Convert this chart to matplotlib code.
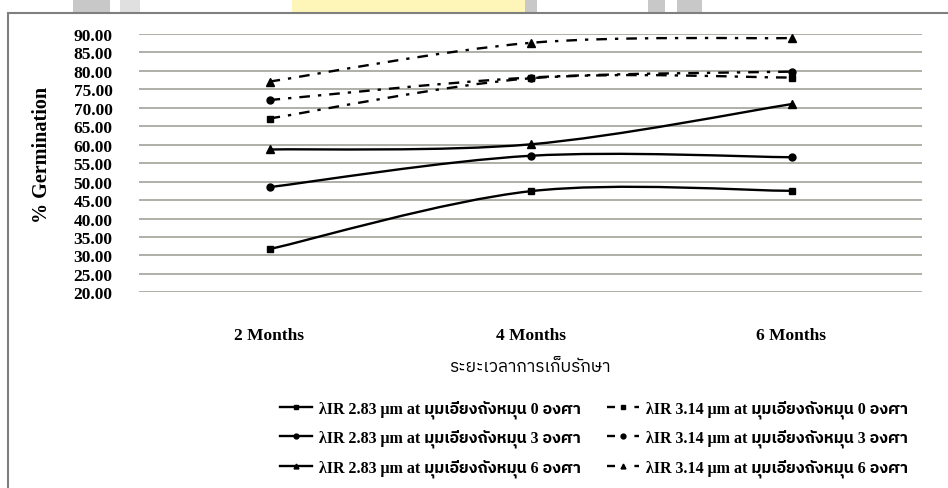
import matplotlib
matplotlib.use("Agg")
import matplotlib.pyplot as plt
from matplotlib import font_manager
from matplotlib.ft2font import FT2Font
from matplotlib.path import Path
from matplotlib.patches import PathPatch, Rectangle
from matplotlib.lines import Line2D
import numpy as np

# data
months = ["2 Months", "4 Months", "6 Months"]
ir283_deg0 = [31.7, 47.4, 47.5]
ir283_deg3 = [48.5, 57.0, 56.6]
ir283_deg6 = [58.7, 60.1, 71.0]
ir314_deg0 = [67.1, 78.0, 78.2]
ir314_deg3 = [72.1, 78.2, 79.8]
ir314_deg6 = [77.1, 87.6, 88.9]
y_ticks = [20, 25, 30, 35, 40, 45, 50, 55, 60, 65, 70, 75, 80, 85, 90]

labels = [
    "λIR 2.83 μm at มุมเอียงถังหมุน 0 องศา",
    "λIR 2.83 μm at มุมเอียงถังหมุน 3 องศา",
    "λIR 2.83 μm at มุมเอียงถังหมุน 6 องศา",
    "λIR 3.14 μm at มุมเอียงถังหมุน 0 องศา",
    "λIR 3.14 μm at มุมเอียงถังหมุน 3 องศา",
    "λIR 3.14 μm at มุมเอียงถังหมุน 6 องศา",
]


def find_thai_font():
    """Return the name of an installed family that has Thai glyphs."""
    found = []
    for f in font_manager.fontManager.ttflist:
        try:
            cmap = FT2Font(f.fname).get_charmap()
        except Exception:
            continue
        if 0x0E23 in cmap and 0x0E21 in cmap:
            found.append(f.name)
    if not found:
        return "DejaVu Sans"
    for name in found:
        if "Thai" in name:
            return name
    return found[0]


thai = find_thai_font()
serif = ["Liberation Serif", thai, "DejaVu Sans"]


def smooth_path(xs, ys):
    """Excel-like smoothed line through the points (cubic bezier)."""
    pts = np.column_stack([xs, ys]).astype(float)
    n = len(pts)
    verts = [pts[0]]
    codes = [Path.MOVETO]
    for i in range(n - 1):
        p0 = pts[max(i - 1, 0)]
        p1 = pts[i]
        p2 = pts[i + 1]
        p3 = pts[min(i + 2, n - 1)]
        c1 = p1 + (p2 - p0) / 6.0
        c2 = p2 - (p3 - p1) / 6.0
        verts += [c1, c2, p2]
        codes += [Path.CURVE4] * 3
    return Path(verts, codes)


fig = plt.figure(figsize=(9.48, 4.89), dpi=100)

# page decoration behind the chart frame
W, H = 948, 489
for x0, x1, col in [(73, 110, "#c8c8c8"), (120, 140, "#e0e0e0"),
                    (292, 525, "#fdf6b8"), (525, 537, "#c8c8c8"),
                    (648, 665, "#c8c8c8"), (677, 702, "#c8c8c8")]:
    fig.patches.append(Rectangle((x0 / W, 1 - 14 / H), (x1 - x0) / W, 14 / H,
                                 transform=fig.transFigure, color=col, lw=0,
                                 zorder=-10))
fig.patches.append(Rectangle((8 / W, -0.05), 1.0, 1 - 14 / H + 0.05,
                             transform=fig.transFigure, facecolor="white",
                             edgecolor="#7f7f7f", lw=1.5, zorder=-10))

ax = fig.add_axes([139 / W, 1 - 293.3 / H, (922 - 139) / W, (293.3 - 35) / H])
ax.set_facecolor("none")

x = np.arange(len(months))
dashdot = (0, (4.5, 3.4, 1.4, 3.4))
series = [
    (ir283_deg0, "s", "-"),
    (ir283_deg3, "o", "-"),
    (ir283_deg6, "^", "-"),
    (ir314_deg0, "s", dashdot),
    (ir314_deg3, "o", dashdot),
    (ir314_deg6, "^", dashdot),
]
handles = []
for (vals, mk, ls), lab in zip(series, labels):
    ax.add_patch(PathPatch(smooth_path(x, vals), facecolor="none",
                           edgecolor="black", lw=1.7, linestyle=ls, zorder=3))
    ms = 5.5 if mk == "^" else 5
    ax.plot(x, vals, linestyle="none", marker=mk, color="black", ms=ms, zorder=4)
    # legend sample: short dashes either side of the marker, like the original
    leg_ls = "-" if ls == "-" else (0, (3.4, 8.2))
    handles.append(Line2D([], [], color="black", lw=1.7, linestyle=leg_ls,
                          marker=mk, ms=3.5, label=lab))

ax.set_xlim(-0.5, 2.5)
ax.set_ylim(20, 90)
ax.set_xticks(x)
ax.set_xticklabels(months)
ax.set_yticks(y_ticks)
ax.set_yticklabels([f"{v:.2f}" for v in y_ticks])
ax.tick_params(length=0)
ax.tick_params(axis="y", pad=19)
ax.tick_params(axis="x", pad=25)
for lbl in ax.get_xticklabels() + ax.get_yticklabels():
    lbl.set_family(serif)
    lbl.set_fontweight("bold")
    lbl.set_fontsize(12.5)
for s in ax.spines.values():
    s.set_visible(False)
ax.grid(axis="y", color="#9a9a90", lw=1.1, zorder=0)
ax.set_axisbelow(True)

fig.text(42 / W, 1 - 155 / H, "% Germination", rotation=90, ha="center",
         va="center", family=serif, fontweight="bold", fontsize=14.5)
fig.text(530 / W, 1 - 367 / H, "ระยะเวลาการเก็บรักษา", ha="center", va="center",
         family=[thai, "DejaVu Sans"], fontsize=12.5)

fig.legend(handles=handles, ncol=2, loc="center",
           bbox_to_anchor=(594 / W, 1 - 439 / H), frameon=False,
           prop={"family": serif, "weight": "bold", "size": 11.5},
           handlelength=2.0, handletextpad=0.45, columnspacing=1.6,
           labelspacing=0.68)

fig.savefig("out.png", dpi=100)
